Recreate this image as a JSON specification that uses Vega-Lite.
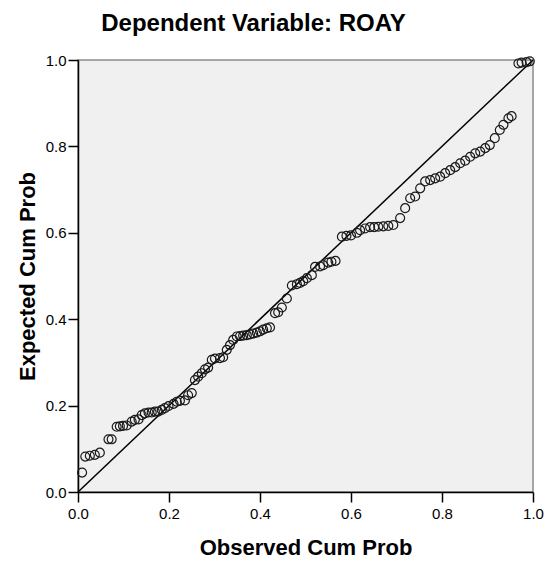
{
  "$schema": "https://vega.github.io/schema/vega-lite/v6.json",
  "width": 455,
  "height": 432,
  "autosize": {"type": "none"},
  "padding": {"left": 78, "top": 60, "right": 13, "bottom": 70},
  "background": "white",
  "title": {
    "text": "Dependent Variable: ROAY",
    "font": "Liberation Sans",
    "fontSize": 24,
    "fontWeight": "bold",
    "color": "#000000",
    "anchor": "middle",
    "dx": -52,
    "offset": 17
  },
  "config": {
    "view": {"fill": "#F0F0F0", "stroke": "#8c8c8c", "strokeWidth": 1.5},
    "axis": {
      "labelFont": "Liberation Sans",
      "labelFontSize": 15,
      "labelColor": "#000000",
      "titleFont": "Liberation Sans",
      "titleFontSize": 22,
      "titleFontWeight": "bold",
      "titleColor": "#000000",
      "domainColor": "#000000",
      "domainWidth": 1.5,
      "tickColor": "#000000",
      "tickWidth": 1.5,
      "tickSize": 10,
      "grid": false,
      "labelFlush": false,
      "labelOverlap": false
    }
  },
  "layer": [
    {
      "data": {"values": [{"ox": 0, "ey": 0}, {"ox": 1, "ey": 1}]},
      "mark": {"type": "line", "color": "#000000", "strokeWidth": 1.5},
      "encoding": {
        "x": {"field": "ox", "type": "quantitative"},
        "y": {"field": "ey", "type": "quantitative"}
      }
    },
    {
      "data": {"values": [
        {"ox": 0.009, "ey": 0.045}, {"ox": 0.016, "ey": 0.082}, {"ox": 0.026, "ey": 0.084}, {"ox": 0.037, "ey": 0.086},
        {"ox": 0.048, "ey": 0.091}, {"ox": 0.067, "ey": 0.122}, {"ox": 0.074, "ey": 0.122}, {"ox": 0.085, "ey": 0.151},
        {"ox": 0.092, "ey": 0.152}, {"ox": 0.099, "ey": 0.153}, {"ox": 0.107, "ey": 0.154}, {"ox": 0.118, "ey": 0.163},
        {"ox": 0.125, "ey": 0.167}, {"ox": 0.133, "ey": 0.168}, {"ox": 0.140, "ey": 0.178}, {"ox": 0.147, "ey": 0.182},
        {"ox": 0.155, "ey": 0.184}, {"ox": 0.162, "ey": 0.184}, {"ox": 0.169, "ey": 0.186}, {"ox": 0.176, "ey": 0.186},
        {"ox": 0.184, "ey": 0.190}, {"ox": 0.191, "ey": 0.194}, {"ox": 0.199, "ey": 0.199}, {"ox": 0.210, "ey": 0.204},
        {"ox": 0.217, "ey": 0.209}, {"ox": 0.224, "ey": 0.211}, {"ox": 0.235, "ey": 0.212}, {"ox": 0.242, "ey": 0.224},
        {"ox": 0.250, "ey": 0.229}, {"ox": 0.257, "ey": 0.259}, {"ox": 0.264, "ey": 0.267}, {"ox": 0.272, "ey": 0.275},
        {"ox": 0.279, "ey": 0.284}, {"ox": 0.286, "ey": 0.288}, {"ox": 0.294, "ey": 0.306}, {"ox": 0.301, "ey": 0.309},
        {"ox": 0.312, "ey": 0.310}, {"ox": 0.319, "ey": 0.312}, {"ox": 0.327, "ey": 0.329}, {"ox": 0.334, "ey": 0.340},
        {"ox": 0.341, "ey": 0.352}, {"ox": 0.349, "ey": 0.360}, {"ox": 0.356, "ey": 0.361}, {"ox": 0.363, "ey": 0.362},
        {"ox": 0.371, "ey": 0.363}, {"ox": 0.378, "ey": 0.365}, {"ox": 0.385, "ey": 0.367}, {"ox": 0.393, "ey": 0.369},
        {"ox": 0.400, "ey": 0.372}, {"ox": 0.407, "ey": 0.376}, {"ox": 0.415, "ey": 0.379}, {"ox": 0.422, "ey": 0.381},
        {"ox": 0.433, "ey": 0.414}, {"ox": 0.440, "ey": 0.416}, {"ox": 0.448, "ey": 0.427}, {"ox": 0.459, "ey": 0.448},
        {"ox": 0.470, "ey": 0.478}, {"ox": 0.481, "ey": 0.481}, {"ox": 0.488, "ey": 0.484}, {"ox": 0.495, "ey": 0.488},
        {"ox": 0.503, "ey": 0.495}, {"ox": 0.514, "ey": 0.502}, {"ox": 0.521, "ey": 0.521}, {"ox": 0.532, "ey": 0.522},
        {"ox": 0.539, "ey": 0.525}, {"ox": 0.550, "ey": 0.531}, {"ox": 0.557, "ey": 0.533}, {"ox": 0.566, "ey": 0.535},
        {"ox": 0.580, "ey": 0.591}, {"ox": 0.590, "ey": 0.593}, {"ox": 0.600, "ey": 0.594}, {"ox": 0.613, "ey": 0.600},
        {"ox": 0.620, "ey": 0.606}, {"ox": 0.631, "ey": 0.610}, {"ox": 0.642, "ey": 0.613}, {"ox": 0.651, "ey": 0.613},
        {"ox": 0.660, "ey": 0.614}, {"ox": 0.671, "ey": 0.615}, {"ox": 0.682, "ey": 0.616}, {"ox": 0.693, "ey": 0.618},
        {"ox": 0.708, "ey": 0.634}, {"ox": 0.719, "ey": 0.657}, {"ox": 0.730, "ey": 0.680}, {"ox": 0.741, "ey": 0.684},
        {"ox": 0.752, "ey": 0.703}, {"ox": 0.763, "ey": 0.719}, {"ox": 0.774, "ey": 0.722}, {"ox": 0.785, "ey": 0.726},
        {"ox": 0.796, "ey": 0.730}, {"ox": 0.807, "ey": 0.738}, {"ox": 0.818, "ey": 0.745}, {"ox": 0.829, "ey": 0.752},
        {"ox": 0.840, "ey": 0.761}, {"ox": 0.851, "ey": 0.767}, {"ox": 0.862, "ey": 0.776}, {"ox": 0.873, "ey": 0.784},
        {"ox": 0.884, "ey": 0.788}, {"ox": 0.895, "ey": 0.796}, {"ox": 0.905, "ey": 0.803}, {"ox": 0.916, "ey": 0.819},
        {"ox": 0.927, "ey": 0.838}, {"ox": 0.935, "ey": 0.850}, {"ox": 0.946, "ey": 0.865}, {"ox": 0.953, "ey": 0.870},
        {"ox": 0.968, "ey": 0.992}, {"ox": 0.975, "ey": 0.994}, {"ox": 0.986, "ey": 0.995}, {"ox": 0.993, "ey": 0.997}
      ]},
      "mark": {"type": "point", "shape": "circle", "filled": false, "stroke": "#1a1a1a", "strokeWidth": 1.2, "size": 80, "opacity": 1},
      "encoding": {
        "x": {
          "field": "ox", "type": "quantitative",
          "scale": {"domain": [0, 1], "nice": false, "zero": false},
          "axis": {"title": "Observed Cum Prob", "values": [0, 0.2, 0.4, 0.6, 0.8, 1], "format": ".1f", "labelPadding": 4, "titlePadding": 16}
        },
        "y": {
          "field": "ey", "type": "quantitative",
          "scale": {"domain": [0, 1], "nice": false, "zero": false},
          "axis": {"title": "Expected Cum Prob", "values": [0, 0.2, 0.4, 0.6, 0.8, 1], "format": ".1f", "labelPadding": 2, "titlePadding": 6}
        }
      }
    }
  ]
}
